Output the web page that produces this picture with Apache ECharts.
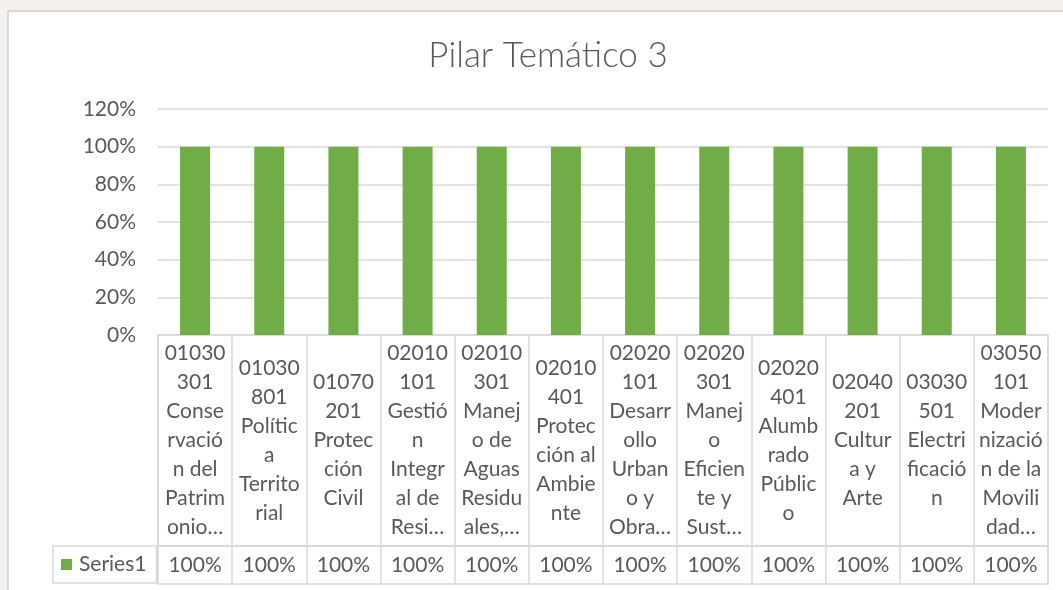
<!DOCTYPE html>
<html>
<head>
<meta charset="utf-8">
<script src="https://cdn.jsdelivr.net/npm/echarts@6/dist/echarts.min.js"></script>
<style>
  html, body { margin: 0; padding: 0; background: #f3f0ed; overflow: hidden; }
  .box {
    position: absolute; left: 7px; top: 10px; width: 1070px; height: 600px;
    background: #fff; border-left: 2px solid #d9d9d9; border-top: 2px solid #d9d9d9;
  }
  #chart { position: absolute; left: 0; top: 0; width: 1063px; height: 590px; }
</style>
</head>
<body>
<div class="box"></div>
<div id="chart"></div>
<script>
// data
const categories = [
  '01030\n301\nConse\nrvació\nn del\nPatrim\nonio…',
  '01030\n801\nPolític\na\nTerrito\nrial',
  '01070\n201\nProtec\nción\nCivil',
  '02010\n101\nGestió\nn\nIntegr\nal de\nResi…',
  '02010\n301\nManej\no de\nAguas\nResidu\nales,…',
  '02010\n401\nProtec\nción al\nAmbie\nnte',
  '02020\n101\nDesarr\nollo\nUrban\no y\nObra…',
  '02020\n301\nManej\no\nEficien\nte y\nSust…',
  '02020\n401\nAlumb\nrado\nPúblic\no',
  '02040\n201\nCultur\na y\nArte',
  '03030\n501\nElectri\nficació\nn',
  '03050\n101\nModer\nnizació\nn de la\nMovili\ndad…'
]
const values = [1, 1, 1, 1, 1, 1, 1, 1, 1, 1, 1, 1]
const seriesName = 'Series1'
const yTicks = { min: 0, max: 1.2, interval: 0.2 }

const gray = '#595959'
const line = '#d9d9d9'
const green = '#70ad47'
const font = 'Lato'
const pct = v => Math.round(v * 100) + '%'

const chart = echarts.init(document.getElementById('chart'))
chart.setOption({
  animation: false,
  textStyle: { fontFamily: font },
  title: {
    text: 'Pilar Temático 3',
    left: 543,
    top: 33,
    textAlign: 'center',
    textStyle: { fontFamily: font, fontWeight: 300, fontSize: 35, color: gray }
  },
  legend: {
    data: [seriesName],
    left: 53,
    top: 546,
    itemWidth: 11,
    itemHeight: 11,
    itemGap: 0,
    padding: [8, 10, 8, 8],
    borderColor: line,
    borderWidth: 1.5,
    icon: 'rect',
    textStyle: { fontSize: 21, color: gray, fontFamily: font, padding: [0, 0, 0, 2] }
  },
  grid: [
    { left: 158, right: 15, top: 109, height: 226 },
    { left: 158, right: 15, top: 335, height: 211, show: true, borderColor: line, borderWidth: 1.5 },
    { left: 158, right: 15, top: 546, height: 38, show: true, borderColor: line, borderWidth: 1.5 }
  ],
  xAxis: [0, 1, 2].map(i => ({
    type: 'category',
    gridIndex: i,
    data: categories,
    axisLine: { show: false },
    axisTick: { show: false },
    axisLabel: { show: false },
    splitLine: { show: i > 0, interval: 0, lineStyle: { color: line, width: 1.5 } }
  })),
  yAxis: [
    {
      type: 'value',
      gridIndex: 0,
      min: yTicks.min,
      max: yTicks.max,
      interval: yTicks.interval,
      axisLine: { show: false },
      axisTick: { show: false },
      axisLabel: { formatter: pct, color: gray, fontSize: 21, margin: 22, fontFamily: font },
      splitLine: { lineStyle: { color: line, width: 1.5 } }
    },
    { type: 'value', gridIndex: 1, min: 0, max: 1, show: false },
    { type: 'value', gridIndex: 2, min: 0, max: 1, show: false }
  ],
  series: [
    {
      name: seriesName,
      type: 'bar',
      xAxisIndex: 0,
      yAxisIndex: 0,
      data: values,
      barWidth: 30,
      itemStyle: { color: green }
    },
    {
      // category cells of the data table
      type: 'bar',
      xAxisIndex: 1,
      yAxisIndex: 1,
      data: values,
      barWidth: '100%',
      silent: true,
      itemStyle: { color: 'rgba(0,0,0,0)' },
      label: {
        show: true,
        position: 'inside',
        formatter: p => categories[p.dataIndex],
        color: gray,
        fontSize: 21,
        lineHeight: 29,
        fontFamily: font
      }
    },
    {
      // value row of the data table
      type: 'bar',
      xAxisIndex: 2,
      yAxisIndex: 2,
      data: values,
      barWidth: '100%',
      silent: true,
      itemStyle: { color: 'rgba(0,0,0,0)' },
      label: {
        show: true,
        position: 'inside',
        formatter: p => pct(p.value),
        color: gray,
        fontSize: 21,
        fontFamily: font
      }
    }
  ]
})
</script>
</body>
</html>
